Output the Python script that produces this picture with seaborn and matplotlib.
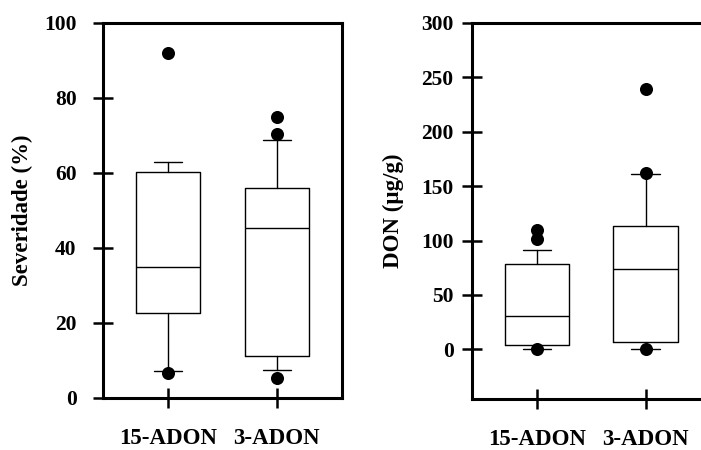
import matplotlib
matplotlib.use("Agg")
import matplotlib.pyplot as plt
import seaborn as sns
import pandas as pd

# Isolate groups
groups = ["15-ADON", "3-ADON"]

# Severity (%) box summary: 10th/25th/50th/75th/90th percentiles
sev_p10 = [7.3, 7.5]
sev_q1 = [22.6, 11.2]
sev_med = [35.0, 45.4]
sev_q3 = [60.3, 56.0]
sev_p90 = [63.0, 68.7]
sev_out_15 = [91.8, 6.7]
sev_out_3 = [75.0, 70.3, 5.4]

# DON (ug/g) box summary
don_p10 = [0.4, 0.4]
don_q1 = [4.2, 6.8]
don_med = [30.7, 73.7]
don_q3 = [78.8, 113.5]
don_p90 = [91.1, 161.3]
don_out_15 = [109.6, 101.2, 0.0]
don_out_3 = [238.8, 162.4, 0.0]

sns.set_style("ticks")
plt.rcParams["font.family"] = ["Liberation Serif", "DejaVu Serif"]
plt.rcParams["font.weight"] = "bold"
for key in ["text.color", "axes.labelcolor", "xtick.color", "ytick.color",
            "axes.edgecolor"]:
    plt.rcParams[key] = "black"

fig = plt.figure(figsize=(7.01, 4.5), dpi=100)
ax1 = fig.add_axes([0.1469, 0.1156, 0.341, 0.834])
ax2 = fig.add_axes([0.6729, 0.1133, 0.341, 0.8363])


def draw_panel(ax, p10, q1, med, q3, p90, out15, out3, ylim, yticks, ylabel,
               ypad, lpad):
    stats = []
    for i in range(len(groups)):
        stats.append(dict(med=med[i], q1=q1[i], q3=q3[i],
                          whislo=p10[i], whishi=p90[i], fliers=[]))
    ax.bxp(stats, positions=[0, 1], widths=0.59, capwidths=0.26,
           showfliers=False, patch_artist=False,
           boxprops=dict(color="black", linewidth=1.0),
           medianprops=dict(color="black", linewidth=1.0),
           whiskerprops=dict(color="black", linewidth=1.0),
           capprops=dict(color="black", linewidth=1.0),
           manage_ticks=False)
    pts = pd.DataFrame({
        "grupo": [groups[0]] * len(out15) + [groups[1]] * len(out3),
        "valor": list(out15) + list(out3),
    })
    sns.stripplot(data=pts, x="grupo", y="valor", order=groups, jitter=False,
                  color="black", size=9.4, linewidth=0, ax=ax, zorder=5)
    ax.set_xlim(-0.6, 1.6)
    ax.set_ylim(*ylim)
    ax.set_yticks(yticks)
    ax.set_xticks([0, 1])
    ax.set_xticklabels(groups, fontsize=16.5, fontweight="bold", color="black")
    ax.set_xlabel("")
    ax.set_ylabel(ylabel, fontsize=16.5, fontweight="bold", labelpad=lpad,
                  color="black")
    for lab in ax.get_yticklabels():
        lab.set_fontsize(15.5)
        lab.set_fontweight("bold")
        lab.set_color("black")
    ax.tick_params(axis="y", direction="inout", length=14, width=1.8,
                   pad=ypad, colors="black")
    ax.tick_params(axis="x", direction="inout", length=15, width=1.8,
                   pad=14, colors="black")
    for s in ax.spines.values():
        s.set_visible(True)
        s.set_linewidth(2.2)
        s.set_color("black")


draw_panel(ax1, sev_p10, sev_q1, sev_med, sev_q3, sev_p90, sev_out_15, sev_out_3,
           (0, 100), [0, 20, 40, 60, 80, 100], "Severidade (%)", 12, 8)
draw_panel(ax2, don_p10, don_q1, don_med, don_q3, don_p90, don_out_15, don_out_3,
           (-45.5, 300), [0, 50, 100, 150, 200, 250, 300], "DON (µg/g)", 6, 12)

fig.savefig("out.png", dpi=100)
